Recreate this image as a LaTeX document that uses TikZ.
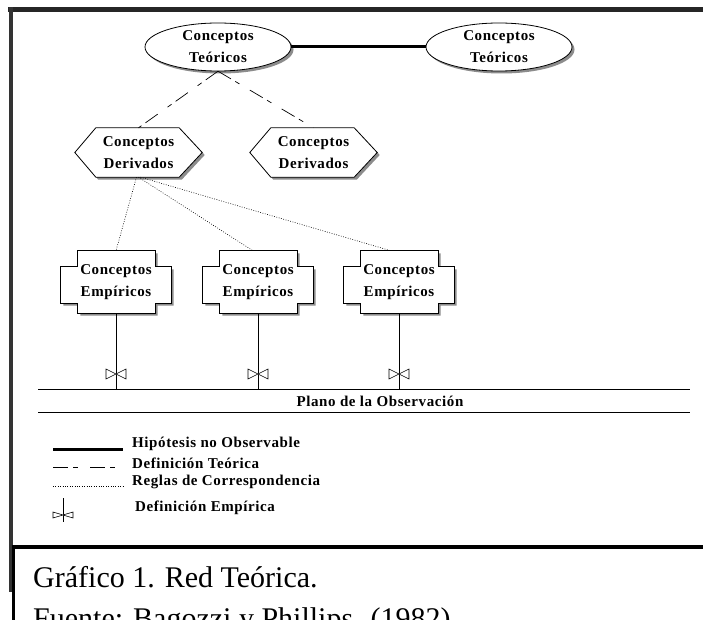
\documentclass[tikz,border=0pt]{standalone}
\usepackage{fontspec}
\setmainfont{Liberation Serif}
\newfontfamily\lblfont[LetterSpace=4]{Liberation Serif}
\usetikzlibrary{shadows,backgrounds,calc}

\begin{document}
\begin{tikzpicture}[x=1pt,y=-1pt,
  lbl/.style={font=\lblfont\bfseries\fontsize{15}{22}\selectfont, align=center, inner sep=0pt},
  shad/.style={drop shadow={shadow xshift=2.5pt, shadow yshift=-2.5pt, fill=black!45, opacity=1}},
  teo/.style={lbl, rectangle, minimum width=146pt, minimum height=48pt},
  der/.style={lbl, rectangle, minimum width=127pt, minimum height=49pt},
  emp/.style={lbl, rectangle, minimum width=110pt, minimum height=62pt},
  outl/.style={draw, fill=white, line width=0.8pt, shad},
  hyp/.style={line width=3pt},
  teodef/.style={line width=0.7pt, dash pattern=on 15pt off 5pt on 5pt off 12pt},
  corr/.style={line width=0.6pt, dash pattern=on 0.8pt off 1.6pt},
  empdef/.style={line width=0.8pt},
  btie/.pic={\filldraw[fill=white, line width=0.6pt] (-10,-5) -- (0,0) -- (-10,5) -- cycle (10,-5) -- (0,0) -- (10,5) -- cycle;},
  legtext/.style={lbl, anchor=west, align=left}
]
\useasboundingbox (0,0) rectangle (703,620);
\clip (0,0) rectangle (703,620);
\begin{scope}[on background layer]
  \fill[white] (0,0) rectangle (703,620);
\end{scope}

% frame
\draw[line width=4.5pt, black!85] (8,9.5) -- (703,9.5);
\draw[line width=4pt, black!80] (11,7.5) -- (11,592);
\draw[line width=4pt] (12,547) -- (703,547);
\draw[line width=3pt] (13.5,545) -- (13.5,620);

% nodes
\node[teo] (t1) at (218,47) {Conceptos\\Teóricos};
\node[teo] (t2) at (499,47) {Conceptos\\Teóricos};
\node[der] (h1) at (138.5,152.5) {Conceptos\\Derivados};
\node[der] (h2) at (313.5,152.5) {Conceptos\\Derivados};
\node[emp] (e1) at (116,282) {Conceptos\\Empíricos};
\node[emp] (e2) at (258,282) {Conceptos\\Empíricos};
\node[emp] (e3) at (399,282) {Conceptos\\Empíricos};

\begin{scope}[on background layer]
  \foreach \t in {t1,t2}{
    \path[outl] (\t.center) ellipse [x radius=73, y radius=24];
  }
  \foreach \h in {h1,h2}{
    \path[outl] (\h.west) -- ([xshift=21pt]\h.north west) -- ([xshift=-23pt]\h.north east) -- (\h.east)
      -- ([xshift=-23pt]\h.south east) -- ([xshift=21pt]\h.south west) -- cycle;
  }
  \foreach \e in {e1,e2,e3}{
    \path[outl] ([xshift=17pt]\e.north west) -- ([xshift=-16pt]\e.north east)
      -- ([xshift=-16pt,yshift=-16pt]\e.north east) -- ([yshift=-16pt]\e.north east)
      -- ([yshift=10pt]\e.south east) -- ([xshift=-16pt,yshift=10pt]\e.south east)
      -- ([xshift=-16pt]\e.south east) -- ([xshift=17pt]\e.south west)
      -- ([xshift=17pt,yshift=10pt]\e.south west) -- ([yshift=10pt]\e.south west)
      -- ([yshift=-16pt]\e.north west) -- ([xshift=17pt,yshift=-16pt]\e.north west) -- cycle;
  }
\end{scope}

% connectors
\draw[hyp] (t1.east) -- (t2.west);
\draw[teodef] (t1.south) -- (h1.north);
\draw[teodef] (t1.south) -- (h2.north);
\draw[corr] ([xshift=-2pt]h1.south) -- (e1.north);
\draw[corr] (h1.south) -- ([xshift=-5pt]e2.north);
\draw[corr] ([xshift=2pt]h1.south) -- ([xshift=-8pt]e3.north);

% observation plane
\coordinate (pl) at (38,389);
\coordinate (pr) at (690,389);
\coordinate (ql) at (38,412);
\coordinate (qr) at (690,412);
\draw[line width=0.8pt] (pl) -- (pr);
\draw[line width=0.8pt] (ql) -- (qr);
\node[lbl] (plano) at (380,401) {Plano de la Observación};

\foreach \e in {e1,e2,e3}{
  \draw[empdef] (\e.south) -- (\e.south |- pl);
  \pic at ($(\e.south |- pl)+(0,-15)$) {btie};
}

% legend
\coordinate (l1a) at (53,449); \coordinate (l1b) at (123,449);
\coordinate (l2a) at (53,467); \coordinate (l2b) at (123,467);
\coordinate (l3a) at (53,486); \coordinate (l3b) at (123,486);
\coordinate (l4a) at (63,498); \coordinate (l4b) at (63,522);
\draw[hyp] (l1a) -- (l1b);
\draw[teodef] (l2a) -- (l2b);
\draw[corr] (l3a) -- (l3b);
\draw[empdef] (l4a) -- (l4b);
\pic[yscale=0.6] at (63,515) {btie};
\node[legtext] (g1) at (132,444) {Hipótesis no Observable};
\node[legtext] (g2) at (132,463) {Definición Teórica};
\node[legtext] (g3) at (132,482) {Reglas de Correspondencia};
\node[legtext] (g4) at (135,508) {Definición Empírica};

% caption
\node[anchor=base west, inner sep=0pt, font=\fontsize{30}{36}\selectfont] (cap1) at (33,587) {Gráfico 1. Red Teórica.};
\node[anchor=base west, inner sep=0pt, font=\fontsize{30}{36}\selectfont] (cap2) at (33,628) {Fuente: Bagozzi y Phillips. (1982)};
\end{tikzpicture}
\end{document}
